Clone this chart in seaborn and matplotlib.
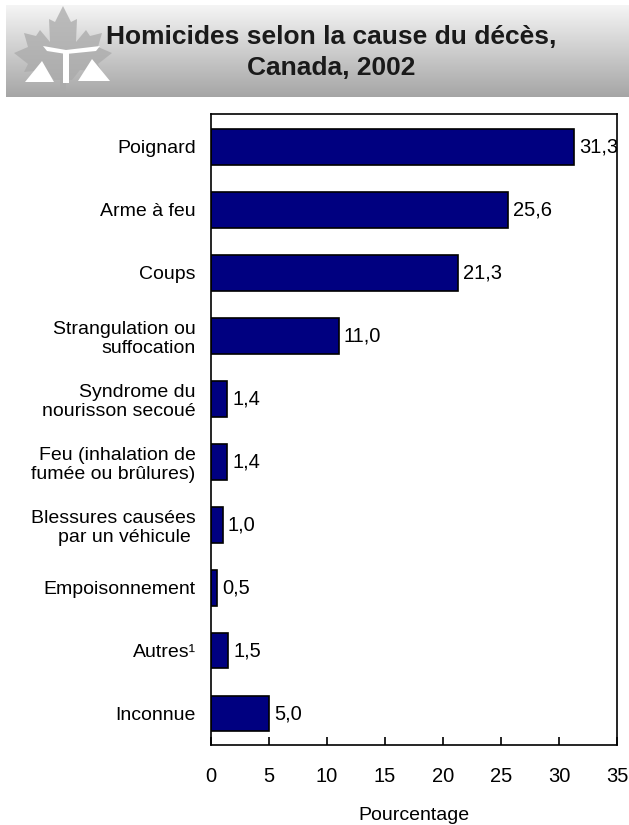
import numpy as np
import pandas as pd
import matplotlib
matplotlib.use("Agg")
import matplotlib.pyplot as plt
import seaborn as sns
from matplotlib.patches import Polygon, Rectangle

categories = ["Poignard", "Arme à feu", "Coups", "Strangulation ou\nsuffocation",
              "Syndrome du\nnourisson secoué", "Feu (inhalation de\nfumée ou brûlures)",
              "Blessures causées\npar un véhicule ", "Empoisonnement", "Autres¹", "Inconnue"]
values = [31.3, 25.6, 21.3, 11.0, 1.4, 1.4, 1.0, 0.5, 1.5, 5.0]
value_labels = ["31,3", "25,6", "21,3", "11,0", "1,4", "1,4", "1,0", "0,5", "1,5", "5,0"]
xticks = [0, 5, 10, 15, 20, 25, 30, 35]

sns.set_theme(style="white")
plt.rcParams['font.family'] = ['Liberation Sans', 'DejaVu Sans']

W, H = 629, 825
fig = plt.figure(figsize=(W/100, H/100), dpi=100)

# Banner
bax = fig.add_axes([6/W, 1-97/H, 1-6/W, 92/H])
grad = np.linspace(0.96, 0.65, 100).reshape(-1, 1)
bax.imshow(np.dstack([grad, grad, grad]), aspect='auto', extent=[6, 629, 97, 5])
bax.set_xlim(6, 629)
bax.set_ylim(97, 5)
# maple leaf (approx), in pixel coords
right = [(63, 6), (71, 22), (77, 19), (76, 42), (86, 30), (90, 36), (102, 33), (98, 47),
         (112, 53), (98, 64), (102, 72), (80, 70), (72, 80), (66, 80), (66, 92)]
left = [(126 - x, y) for (x, y) in reversed(right)]
bax.add_patch(Polygon(right + left, closed=True, fc="#aaaaaa", ec="none", alpha=0.75))
bax.add_patch(Polygon([(43, 46), (66, 50), (100, 46), (96, 51), (66, 54), (47, 51)],
                      closed=True, fc="white", ec="none"))
bax.add_patch(Rectangle((63, 51), 6, 32, fc="white", ec="none"))
bax.add_patch(Polygon([(25, 82), (54, 82), (42, 61)], closed=True, fc="white", ec="none"))
bax.add_patch(Polygon([(78, 81), (110, 81), (92, 59)], closed=True, fc="white", ec="none"))
bax.axis("off")
fig.text(331/W, 1-37/H, "Homicides selon la cause du décès,", ha="center", va="center",
         fontsize=19, fontweight="bold", color="#1a1a1a")
fig.text(331/W, 1-68/H, "Canada, 2002", ha="center", va="center",
         fontsize=19, fontweight="bold", color="#1a1a1a")

# Chart
ax = fig.add_axes([211/W, 1-745/H, (617-211)/W, (745-114)/H])
df = pd.DataFrame({"cat": categories, "val": values})
sns.barplot(data=df, x="val", y="cat", orient="h", color="#000080", saturation=1,
            edgecolor="black", linewidth=1.2, width=0.57, ax=ax)
ax.set_xlim(0, 35)
ax.set_ylim(9.5, -0.52)
ax.set_xticks(xticks)
ax.set_xticklabels([str(t) for t in xticks], fontsize=14.5)
ax.tick_params(axis="x", direction="in", length=6, width=1.2, pad=16, colors="black", bottom=True)
ax.tick_params(axis="y", length=0, pad=11, labelsize=14, colors="black")
for lbl in ax.get_yticklabels():
    lbl.set_multialignment("right")
ax.set_ylabel("")
ax.set_xlabel("Pourcentage", fontsize=14, labelpad=15, color="black")
for s in ax.spines.values():
    s.set_visible(True)
    s.set_color("black")
    s.set_linewidth(1.2)
for i, (v, t) in enumerate(zip(values, value_labels)):
    ax.text(v + 0.45, i, t, va="center", ha="left", fontsize=14.5, color="black")

fig.savefig("out.png", dpi=100, facecolor="white")
